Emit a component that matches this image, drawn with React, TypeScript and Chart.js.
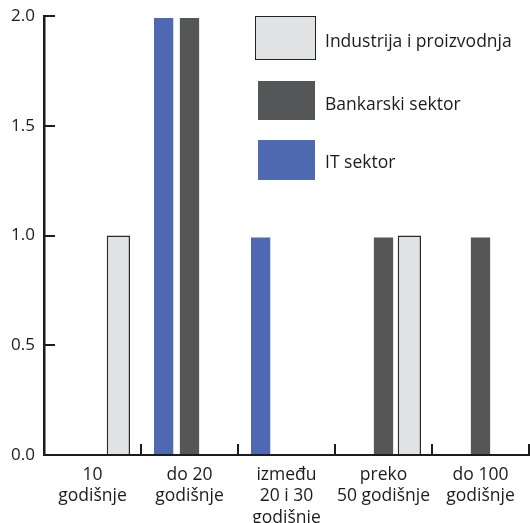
import React, { useEffect, useRef } from "react";
import { Chart, registerables } from "chart.js";

Chart.register(...registerables);

const categories: string[][] = [
  ["10", "godišnje"],
  ["do 20", "godišnje"],
  ["između", "20 i 30", "godišnje"],
  ["preko", "50 godišnje"],
  ["do 100", "godišnje"],
];
const itValues = [0, 2, 1, 0, 0];
const bankValues = [0, 2, 0, 1, 1];
const industryValues = [1, 0, 0, 1, 0];
const seriesNames = ["IT sektor", "Bankarski sektor", "Industrija i proizvodnja"];
const yMin = 0;
const yMax = 2;
const yStep = 0.5;

const BLUE = "#4E69B1";
const DARK = "#545658";
const LIGHT = "#E1E2E4";
const INK = "#1c1c1c";
const FONT = "'Open Sans', sans-serif";

export default function App() {
  const ref = useRef<HTMLCanvasElement | null>(null);

  useEffect(() => {
    document.body.style.margin = "0";
    const canvas = ref.current;
    if (!canvas) return;
    const chart = new Chart(canvas, {
      type: "bar",
      data: {
        labels: categories,
        datasets: [
          {
            label: seriesNames[0],
            data: itValues,
            backgroundColor: BLUE,
            borderColor: "#ffffff",
            borderWidth: 2,
            borderSkipped: "start",
          },
          {
            label: seriesNames[1],
            data: bankValues,
            backgroundColor: DARK,
            borderColor: "#ffffff",
            borderWidth: 2,
            borderSkipped: "start",
          },
          {
            label: seriesNames[2],
            data: industryValues,
            backgroundColor: LIGHT,
            borderColor: "#2a2a2a",
            borderWidth: 1.5,
            borderSkipped: "start",
          },
        ],
      },
      options: {
        responsive: false,
        animation: false,
        devicePixelRatio: 1,
        layout: { padding: { top: 16, left: 0, right: 1, bottom: 0 } },
        datasets: { bar: { categoryPercentage: 0.8, barPercentage: 0.9 } },
        plugins: {
          legend: { display: false },
          tooltip: { enabled: false },
        },
        scales: {
          x: {
            offset: true,
            grid: {
              display: true,
              offset: true,
              drawOnChartArea: false,
              drawTicks: true,
              tickLength: -11,
              color: INK,
              lineWidth: 2,
            },
            border: { display: true, color: INK, width: 2 },
            ticks: {
              color: INK,
              font: { family: FONT, size: 17.5, lineHeight: 1.23 },
              padding: 20,
              maxRotation: 0,
              autoSkip: false,
            },
            afterFit: (s: any) => {
              s.height = 68;
              s.paddingLeft = 0;
              s.paddingRight = 0;
            },
          },
          y: {
            min: yMin,
            max: yMax,
            grid: {
              drawOnChartArea: false,
              drawTicks: true,
              tickLength: -11,
              color: INK,
              lineWidth: 2,
            },
            border: { display: true, color: INK, width: 2.5 },
            ticks: {
              stepSize: yStep,
              color: INK,
              font: { family: FONT, size: 17 },
              padding: 20,
              callback: (v: any) => Number(v).toFixed(1),
            },
            afterFit: (s: any) => {
              s.width = 44;
              s.paddingTop = 0;
              s.paddingBottom = 0;
            },
          },
        },
      },
    });
    return () => chart.destroy();
  }, []);

  const legendItems = [
    { name: seriesNames[2], color: LIGHT, border: "1.5px solid #222", left: 255, top: 16, w: 61, h: 44, ty: 40 },
    { name: seriesNames[1], color: DARK, border: "none", left: 258, top: 81, w: 57, h: 39, ty: 103 },
    { name: seriesNames[0], color: BLUE, border: "none", left: 258, top: 140, w: 57, h: 40, ty: 161 },
  ];

  return (
    <div style={{ position: "relative", width: 530, height: 523 }}>
      <canvas ref={ref} width={530} height={523} style={{ display: "block" }} />
      {legendItems.map((it) => (
        <React.Fragment key={it.name}>
          <div
            style={{
              position: "absolute",
              left: it.left,
              top: it.top,
              width: it.w,
              height: it.h,
              background: it.color,
              border: it.border,
              boxSizing: "border-box",
            }}
          />
          <div
            style={{
              position: "absolute",
              left: 325,
              top: it.ty - 12,
              height: 24,
              lineHeight: "24px",
              fontFamily: FONT,
              fontSize: 17.5,
              color: INK,
              whiteSpace: "nowrap",
            }}
          >
            {it.name}
          </div>
        </React.Fragment>
      ))}
    </div>
  );
}
